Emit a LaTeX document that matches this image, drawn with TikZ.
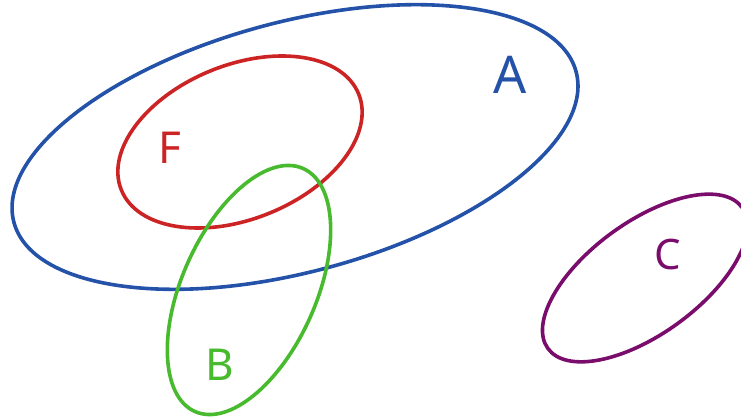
\documentclass[tikz,border=0pt]{standalone}
\usepackage{fontspec}
\setmainfont{Noto Sans}
\definecolor{setblue}{RGB}{36,82,168}
\definecolor{setred}{RGB}{204,36,36}
\definecolor{setgreen}{RGB}{72,186,46}
\definecolor{setpurple}{RGB}{122,12,108}
\begin{document}
\begin{tikzpicture}[x=1pt, y=-1pt, ring/.style={line width=3.6pt}, lbl/.style={font=\fontsize{52}{52}\selectfont, inner sep=0pt}]
    \useasboundingbox (0,0) rectangle (741,419);
    % the four sets
    \draw[ring, setblue] (295,147) ellipse [x radius=291pt, y radius=125pt, rotate=15];
    \draw[ring, setred] (240,142) ellipse [x radius=128pt, y radius=77pt, rotate=22];
    \draw[ring, setgreen] (249,290) ellipse [x radius=133pt, y radius=67pt, rotate=66];
    \draw[ring, setpurple] (645,278) ellipse [x radius=120pt, y radius=56pt, rotate=36];
    % labels
    \node[lbl, setblue] (labA) at (510,75) {A};
    \node[lbl, setred, font=\fontsize{44}{44}\selectfont] (labF) at (170,148) {F};
    \node[lbl, setgreen, font=\fontsize{44}{44}\selectfont] (labB) at (220,365) {B};
    \node[lbl, setpurple, font=\fontsize{42}{42}\selectfont] (labC) at (668,255) {C};
\end{tikzpicture}
\end{document}
